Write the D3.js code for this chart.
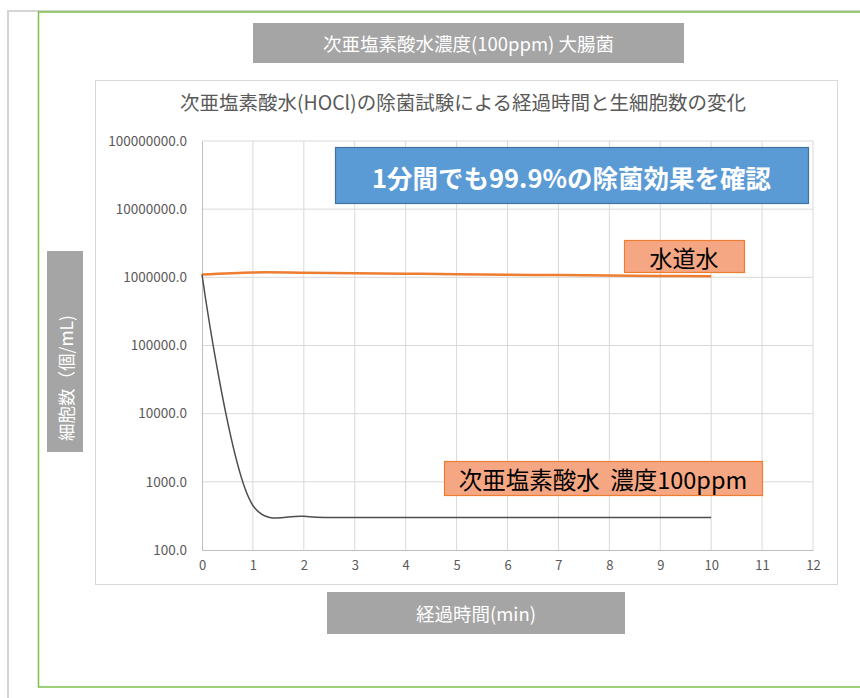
<!DOCTYPE html>
<html>
<head>
<meta charset="utf-8">
<script src="https://cdn.jsdelivr.net/npm/d3@7"></script>
<style>
  body { margin: 0; background: #fff; }
  svg { display: block; font-family: "Noto Sans CJK JP", "Noto Sans", sans-serif; }
</style>
</head>
<body>
<svg id="chart" width="860" height="698"></svg>
<script>
// minutes and cell counts (cells/mL)
const minutes = [0, 1, 2, 3, 4, 5, 6, 7, 8, 9, 10];
const tapWater = [1100000, 1180000, 1170000, 1150000, 1130000, 1110000, 1090000, 1080000, 1060000, 1050000, 1040000];
const hocl = [1100000, 450, 312, 300, 300, 300, 300, 300, 300, 300, 300];
const xTicks = [0, 1, 2, 3, 4, 5, 6, 7, 8, 9, 10, 11, 12];
const yTicks = [100, 1000, 10000, 100000, 1000000, 10000000, 100000000];

const svg = d3.select("#chart");
const font = '"Noto Sans CJK JP", "Noto Sans", sans-serif';

// outer frames
svg.append("path")
  .attr("d", "M8,698 V11 H860")
  .attr("fill", "none")
  .attr("stroke", "#d4d4d4")
  .attr("stroke-width", 2);
svg.append("path")
  .attr("d", "M860,12 H38.5 V687 H860")
  .attr("fill", "none")
  .attr("stroke", "#7cc04a")
  .attr("stroke-width", 1.5);

// grey label boxes
function greyBox(x, y, w, h, text, size) {
  svg.append("rect")
    .attr("x", x).attr("y", y)
    .attr("width", w).attr("height", h)
    .attr("fill", "#a5a5a5");
  svg.append("text")
    .attr("x", x + w / 2).attr("y", y + h / 2)
    .attr("text-anchor", "middle")
    .attr("dominant-baseline", "central")
    .attr("fill", "#fff")
    .attr("font-size", size)
    .text(text);
}
greyBox(253, 23, 431, 40, "次亜塩素酸水濃度(100ppm) 大腸菌", 18.5);
greyBox(327, 592, 298, 42, "経過時間(min)", 18.5);

// y label box (rotated text)
svg.append("rect")
  .attr("x", 47).attr("y", 251)
  .attr("width", 36).attr("height", 201)
  .attr("fill", "#a5a5a5");
svg.append("text")
  .attr("transform", "translate(65,378) rotate(-90)")
  .attr("text-anchor", "middle")
  .attr("dominant-baseline", "central")
  .attr("fill", "#fff")
  .attr("font-size", 17.5)
  .text("細胞数（個/mL)");

// chart area
svg.append("rect")
  .attr("x", 95.5).attr("y", 80.5)
  .attr("width", 742).attr("height", 504)
  .attr("fill", "#fff")
  .attr("stroke", "#d9d9d9");

svg.append("text")
  .attr("x", 463).attr("y", 101)
  .attr("text-anchor", "middle")
  .attr("dominant-baseline", "central")
  .attr("fill", "#595959")
  .attr("font-size", 19.5)
  .text("次亜塩素酸水(HOCl)の除菌試験による経過時間と生細胞数の変化");

const x = d3.scaleLinear().domain([0, 12]).range([202, 813]);
const y = d3.scaleLog().domain([100, 100000000]).range([550, 141]);

// grid
svg.append("g")
  .selectAll("line.v")
  .data(xTicks.slice(1))
  .join("line")
  .attr("x1", (d) => x(d)).attr("x2", (d) => x(d))
  .attr("y1", y(100000000)).attr("y2", y(100))
  .attr("stroke", "#d9d9d9");
svg.append("g")
  .selectAll("line.h")
  .data(yTicks.slice(1))
  .join("line")
  .attr("x1", x(0)).attr("x2", x(12))
  .attr("y1", (d) => y(d)).attr("y2", (d) => y(d))
  .attr("stroke", "#d9d9d9");

// axes
const xAxis = svg.append("g")
  .attr("transform", `translate(0,${y(100)})`)
  .call(d3.axisBottom(x).tickValues(xTicks).tickSize(0).tickPadding(11));
const yAxis = svg.append("g")
  .attr("transform", `translate(${x(0)},0)`)
  .call(d3.axisLeft(y).tickValues(yTicks).tickSize(0).tickPadding(15)
    .tickFormat((d) => d3.format(".1f")(d)));
[xAxis, yAxis].forEach((g) => {
  g.select(".domain").attr("stroke", "#bfbfbf");
  g.selectAll("text")
    .attr("fill", "#595959")
    .attr("font-size", 13.5)
    .attr("font-family", font);
});
xAxis.selectAll("text").attr("font-size", 13);

// series
const line = (vals) => d3.line()
  .x((d, i) => x(minutes[i]))
  .y((d) => y(d))
  .curve(d3.curveCatmullRom.alpha(0.3))(vals);

svg.append("path")
  .attr("d", line(tapWater))
  .attr("fill", "none")
  .attr("stroke", "#ed7d31")
  .attr("stroke-width", 2.5);
svg.append("path")
  .attr("d", line(hocl))
  .attr("fill", "none")
  .attr("stroke", "#4d4d4d")
  .attr("stroke-width", 1.5);

// callouts
function callout(x0, y0, w, h, text, size, fill, stroke, color, weight) {
  svg.append("rect")
    .attr("x", x0 + 0.5).attr("y", y0 + 0.5)
    .attr("width", w).attr("height", h)
    .attr("fill", fill)
    .attr("stroke", stroke)
    .attr("stroke-width", 1.2);
  svg.append("text")
    .attr("x", x0 + w / 2).attr("y", y0 + h / 2 + 1)
    .attr("text-anchor", "middle")
    .attr("dominant-baseline", "central")
    .attr("fill", color)
    .attr("font-size", size)
    .attr("font-weight", weight)
    .style("white-space", "pre")
    .text(text);
}
callout(335, 147, 473, 56, "1分間でも99.9%の除菌効果を確認", 25.5, "#5b9bd5", "#41719c", "#fff", "bold");
callout(624, 240, 120, 32, "水道水", 23, "#f5a683", "#ed7d31", "#000", "normal");
callout(444, 461, 318, 34, "次亜塩素酸水  濃度100ppm", 23.5, "#f5a683", "#ed7d31", "#000", "normal");
</script>
</body>
</html>
